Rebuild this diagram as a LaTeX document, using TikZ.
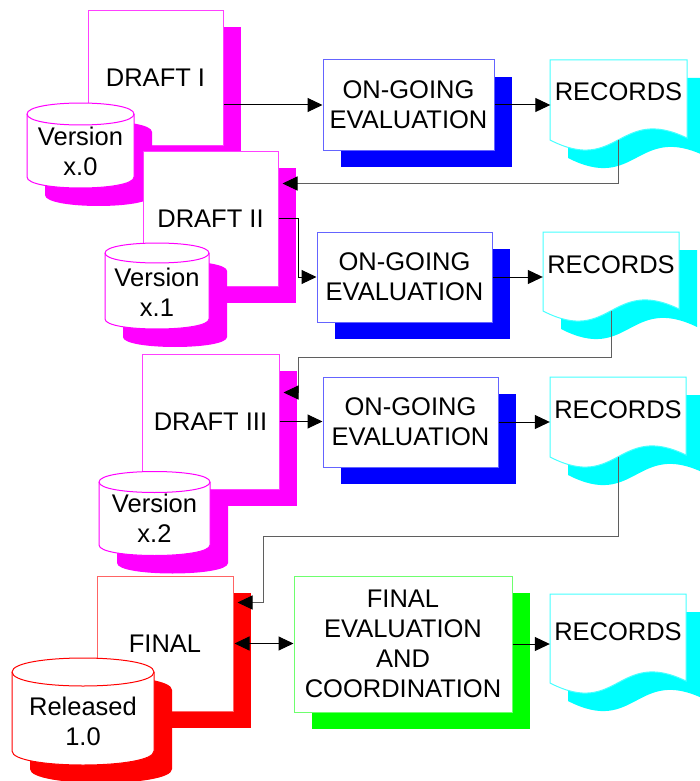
\documentclass[tikz,border=0pt]{standalone}
\usepackage{fontspec}
\setmainfont{Liberation Sans}
\usetikzlibrary{arrows.meta,shadows}

\definecolor{mag}{RGB}{255,0,255}
\definecolor{magline}{RGB}{255,64,255}
\definecolor{blu}{RGB}{0,0,255}
\definecolor{bluline}{RGB}{100,100,255}
\definecolor{cya}{RGB}{0,255,255}
\definecolor{cyaline}{RGB}{70,255,255}
\definecolor{rd}{RGB}{255,0,0}
\definecolor{rdline}{RGB}{255,100,100}
\definecolor{grn}{RGB}{0,255,0}
\definecolor{grnline}{RGB}{110,255,110}
\definecolor{wire}{RGB}{95,95,95}

% database cylinder with its solid offset shadow
% #1 left, #2 right, #3 top cap centre, #4 bottom cap centre, #5 cap half height, #6 colour
\newcommand\drawcyl[6]{%
  \begin{scope}[shift={(18,18)}]
    \fill[#6] (#1,#3) -- (#1,#4) .. controls (#1,#4+1.333*#5) and (#2,#4+1.333*#5) .. (#2,#4)
      -- (#2,#3) .. controls (#2,#3-1.333*#5) and (#1,#3-1.333*#5) .. (#1,#3) -- cycle;
  \end{scope}
  \draw[line width=1pt,draw=#6,fill=white] (#1,#3) -- (#1,#4)
      .. controls (#1,#4+1.333*#5) and (#2,#4+1.333*#5) .. (#2,#4)
      -- (#2,#3) .. controls (#2,#3-1.333*#5) and (#1,#3-1.333*#5) .. (#1,#3) -- cycle;
  \draw[line width=1pt,draw=#6] (#1,#3) .. controls (#1,#3+1.333*#5) and (#2,#3+1.333*#5) .. (#2,#3);
}

% document sheet with a wavy lower edge and its shadow
% #1 left, #2 top, #3 width, #4 height at the left edge
\newcommand\drawsheet[4]{%
  \begin{scope}[shift={(18,18)}]
    \fill[cya] (#1,#2) -- (#1+#3,#2) -- (#1+#3,#2+#4-2)
      .. controls (#1+0.5*#3,#2+#4-35) and (#1+0.5*#3,#2+#4+35) .. (#1,#2+#4) -- cycle;
  \end{scope}
  \draw[line width=1pt,draw=cyaline,fill=white] (#1,#2) -- (#1+#3,#2) -- (#1+#3,#2+#4-2)
      .. controls (#1+0.5*#3,#2+#4-35) and (#1+0.5*#3,#2+#4+35) .. (#1,#2+#4) -- cycle;
}

\tikzset{
  txt/.style={font=\fontsize{25.5pt}{30pt}\selectfont, align=center, inner sep=0pt, text=black},
  box/.style={txt, rectangle, draw, fill=white, line width=1pt},
  draftbox/.style={box, draw=magline, minimum width=135pt, minimum height=135pt,
    general shadow={fill=mag, shadow xshift=18pt, shadow yshift=-17pt}},
  finalbox/.style={box, draw=rdline, minimum width=136pt, minimum height=135pt,
    general shadow={fill=rd, shadow xshift=18pt, shadow yshift=-17pt}},
  evalbox/.style={box, draw=bluline, minimum width=175pt, minimum height=90pt,
    general shadow={fill=blu, shadow xshift=18pt, shadow yshift=-17pt}},
  coordbox/.style={box, draw=grnline, minimum width=218pt, minimum height=136pt,
    general shadow={fill=grn, shadow xshift=18pt, shadow yshift=-17pt}},
  sheettext/.style={txt, anchor=north, minimum width=136pt},
  flowtip/.tip={Triangle[length=15pt,width=14pt,color=black]},
  flow/.style={draw=black, line width=1pt, -flowtip},
  back/.style={draw=wire, line width=1pt, -flowtip},
  both/.style={draw=black, line width=1pt, flowtip-flowtip},
}

\begin{document}
\begin{tikzpicture}[x=1pt,y=-1pt]
\useasboundingbox (0,0) rectangle (700,781);
\fill[white] (0,0) rectangle (700,781);
\clip (0,0) rectangle (700,781);

% ---- first draft ----
\node[draftbox] (d1) at (155.5,78) {DRAFT I};
\drawcyl{27}{134}{114}{177}{11}{mag}
\node[txt] (v0) at (80.5,151) {Version\\x.0};
\node[evalbox, minimum width=171pt] (o1) at (408.5,105) {ON-GOING\\EVALUATION};
\drawsheet{550}{60}{137}{80}
\node[sheettext, minimum height=64pt] (r1) at (618.5,60) {RECORDS};
\coordinate (r1w) at ([shift={(0,80)}]r1.north);

% ---- second draft ----
\node[draftbox] (d2) at (210.5,218.5) {DRAFT II};
\drawcyl{105}{209}{253}{319}{10}{mag}
\node[txt] (v1) at (157,292) {Version\\x.1};
\node[evalbox] (o2) at (404.5,277) {ON-GOING\\EVALUATION};
\drawsheet{543}{232}{136}{79}
\node[sheettext, minimum height=66pt] (r2) at (611,232) {RECORDS};
\coordinate (r2w) at ([shift={(0,79)}]r2.north);

% ---- third draft ----
\node[draftbox, minimum width=137pt] (d3) at (210.5,421.5) {DRAFT III};
\drawcyl{99}{210}{482}{545}{10.5}{mag}
\node[txt] (v2) at (154.5,518) {Version\\x.2};
\node[evalbox] (o3) at (410.5,422) {ON-GOING\\EVALUATION};
\drawsheet{550}{377}{136}{80}
\node[sheettext, minimum height=66pt] (r3) at (618,377) {RECORDS};
\coordinate (r3w) at ([shift={(0,80)}]r3.north);

% ---- release ----
\node[finalbox] (fin) at (165,643.5) {FINAL};
\drawcyl{12}{154}{672}{751}{14}{rd}
\node[txt] (v3) at (83,721) {Released\\1.0};
\node[coordbox] (fe) at (403,644) {FINAL\\EVALUATION\\AND\\COORDINATION};
\drawsheet{550}{594}{136}{89}
\node[sheettext, minimum height=76pt] (r4) at (618,594) {RECORDS};

% ---- connectors ----
\draw[flow] (o1.west -| d1.east) -- (o1.west);
\draw[flow] (o1.east) -- (o1.east -| r1.west);
\draw[back] (r1w) |- ([shift={(4,33)}]d2.north east);

\draw[flow] (d2.east) -- ++(20,0) |- (o2.west);
\draw[flow] (o2.east) -- (o2.east -| r2.west);
\draw[back] (r2w) |- ([shift={(19,4)}]d3.north east) |- ([shift={(4,39)}]d3.north east);

\draw[flow] (d3.east) -- (d3.east -| o3.west);
\draw[flow] (o3.east) -- (o3.east -| r3.west);
\draw[back] (r3w) |- ([shift={(30,-39)}]fin.north east) |- ([shift={(4,27)}]fin.north east);

\draw[both] ([xshift=1pt]fin.east) -- (fin.east -| fe.west);
\draw[flow] (fe.east) -- (fe.east -| r4.west);
\end{tikzpicture}
\end{document}
